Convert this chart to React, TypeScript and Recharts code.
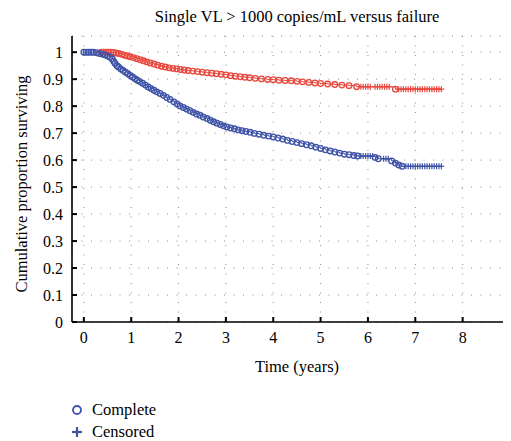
import React from "react";
import { LineChart, Line, XAxis, YAxis, CartesianGrid, Label } from "recharts";

// ---- Data ----
const xTicks = [0, 1, 2, 3, 4, 5, 6, 7, 8, 9];
const yTicks = [0, 0.1, 0.2, 0.3, 0.4, 0.5, 0.6, 0.7, 0.8, 0.9, 1];
const rightTicks = [0.189, 0.381, 0.574, 0.77, 0.963];

// Failure group (blue) - complete (event) points
const blueEventT = [0.0, 0.05, 0.1, 0.15, 0.2, 0.27, 0.33, 0.4, 0.45, 0.5, 0.55, 0.6, 0.63, 0.66, 0.7, 0.73, 0.78, 0.83, 0.88, 0.93, 0.98, 1.03, 1.08, 1.13, 1.18, 1.24, 1.3, 1.36, 1.42, 1.48, 1.54, 1.61, 1.68, 1.75, 1.82, 1.9, 1.97, 2.03, 2.1, 2.17, 2.24, 2.31, 2.38, 2.45, 2.52, 2.6, 2.67, 2.74, 2.81, 2.88, 2.95, 3.02, 3.1, 3.18, 3.26, 3.34, 3.42, 3.51, 3.6, 3.7, 3.8, 3.9, 4.0, 4.1, 4.2, 4.3, 4.4, 4.5, 4.6, 4.7, 4.8, 4.9, 5.0, 5.1, 5.2, 5.3, 5.4, 5.5, 5.6, 5.7, 5.78, 6.15, 6.22, 6.5, 6.58, 6.65, 6.72];
const blueEventS = [1.0, 1.0, 1.0, 1.0, 1.0, 0.998, 0.995, 0.992, 0.99, 0.986, 0.982, 0.975, 0.966, 0.958, 0.95, 0.945, 0.938, 0.932, 0.926, 0.92, 0.914, 0.908, 0.902, 0.896, 0.891, 0.885, 0.878, 0.871, 0.865, 0.859, 0.853, 0.847, 0.84, 0.832, 0.825, 0.816, 0.808, 0.801, 0.795, 0.789, 0.783, 0.777, 0.771, 0.766, 0.76, 0.754, 0.748, 0.742, 0.737, 0.732, 0.727, 0.723, 0.719, 0.716, 0.712, 0.709, 0.706, 0.703, 0.699, 0.696, 0.692, 0.689, 0.686, 0.682, 0.678, 0.673, 0.669, 0.665, 0.661, 0.657, 0.653, 0.648, 0.643, 0.638, 0.634, 0.63, 0.626, 0.622, 0.62, 0.617, 0.615, 0.61, 0.605, 0.597, 0.589, 0.582, 0.577];
// Failure group (blue) - censored points
const blueCensT = [5.85, 5.9, 5.95, 6.0, 6.05, 6.1, 6.33, 6.38, 6.43, 6.8, 6.85, 6.9, 6.95, 7.0, 7.05, 7.1, 7.15, 7.2, 7.25, 7.3, 7.35, 7.4, 7.45, 7.5, 7.55];
const blueCensS = [0.615, 0.615, 0.615, 0.615, 0.615, 0.615, 0.605, 0.605, 0.605, 0.577, 0.577, 0.577, 0.577, 0.577, 0.577, 0.577, 0.577, 0.577, 0.577, 0.577, 0.577, 0.577, 0.577, 0.577, 0.577];

// Single VL > 1000 group (red) - complete (event) points
const redEventT = [0.37, 0.42, 0.47, 0.52, 0.57, 0.62, 0.68, 0.74, 0.8, 0.86, 0.92, 0.98, 1.05, 1.12, 1.19, 1.26, 1.33, 1.4, 1.48, 1.56, 1.64, 1.72, 1.8, 1.88, 1.96, 2.04, 2.12, 2.2, 2.3, 2.4, 2.5, 2.6, 2.7, 2.8, 2.9, 3.0, 3.1, 3.2, 3.3, 3.4, 3.5, 3.62, 3.75, 3.88, 4.0, 4.12, 4.25, 4.38, 4.5, 4.62, 4.75, 4.88, 5.0, 5.15, 5.3, 5.45, 5.6, 5.76, 6.58];
const redEventS = [1.0, 1.0, 1.0, 1.0, 1.0, 0.999, 0.997, 0.995, 0.992, 0.989, 0.986, 0.983, 0.98, 0.976, 0.972, 0.968, 0.964, 0.96, 0.956, 0.952, 0.948, 0.945, 0.942, 0.94, 0.938, 0.936, 0.934, 0.932, 0.93, 0.928, 0.926, 0.924, 0.922, 0.92, 0.918, 0.916, 0.913, 0.911, 0.909, 0.907, 0.905, 0.903, 0.901, 0.899, 0.898, 0.896, 0.895, 0.894, 0.892, 0.89, 0.888, 0.886, 0.884, 0.882, 0.88, 0.878, 0.876, 0.872, 0.863];
// Single VL > 1000 group (red) - censored points
const redCensT = [5.85, 5.9, 5.95, 6.0, 6.05, 6.15, 6.2, 6.25, 6.3, 6.35, 6.4, 6.45, 6.65, 6.7, 6.75, 6.8, 6.85, 6.9, 6.95, 7.0, 7.05, 7.1, 7.15, 7.2, 7.25, 7.3, 7.35, 7.4, 7.45, 7.5, 7.55];
const redCensS = [0.872, 0.872, 0.872, 0.872, 0.872, 0.872, 0.872, 0.872, 0.872, 0.872, 0.872, 0.872, 0.863, 0.863, 0.863, 0.863, 0.863, 0.863, 0.863, 0.863, 0.863, 0.863, 0.863, 0.863, 0.863, 0.863, 0.863, 0.863, 0.863, 0.863, 0.863];

type Pt = { t: number; s: number; c: boolean };
const build = (et: number[], es: number[], ct: number[], cs: number[]): Pt[] => {
  const pts: Pt[] = [];
  et.forEach((t, i) => pts.push({ t, s: es[i], c: false }));
  ct.forEach((t, i) => pts.push({ t, s: cs[i], c: true }));
  return pts.sort((a, b) => a.t - b.t);
};
const blueData = build(blueEventT, blueEventS, blueCensT, blueCensS);
const redData = build(redEventT, redEventS, redCensT, redCensS);

const BLUE = "#3f53a6";
const RED = "#e8473d";
const FONT = '"Liberation Serif", "Times New Roman", serif';

const makeDot = (color: string) => (props: any) => {
  const { cx, cy, payload, index } = props;
  if (cx == null || cy == null) return <g key={`d-${index}`} />;
  if (payload.c) {
    return (
      <g key={`d-${index}`}>
        <line x1={cx - 3} y1={cy} x2={cx + 3} y2={cy} stroke={color} strokeWidth={1.2} />
        <line x1={cx} y1={cy - 3} x2={cx} y2={cy + 3} stroke={color} strokeWidth={1.2} />
      </g>
    );
  }
  return <circle key={`d-${index}`} cx={cx} cy={cy} r={2.8} fill="none" stroke={color} strokeWidth={1.3} />;
};

const tickStyle = { fill: "#000", fontSize: 16, fontFamily: FONT };

export default function App() {
  return (
    <div style={{ position: "relative", width: 503, height: 433, fontFamily: FONT, color: "#000" }}>
      <div style={{ position: "absolute", left: 89, width: 400, top: 0, textAlign: "center", fontSize: 16.5, lineHeight: "18px" }}>
        Single VL &gt; 1000 copies/mL versus failure
      </div>
      <LineChart width={503} height={433} margin={{ top: 28, right: 1, bottom: 89, left: 0 }} style={{ overflow: "visible" }}>
        <CartesianGrid stroke="#8a8a8a" strokeDasharray="1 8.5" strokeWidth={1} />
        <XAxis
          dataKey="t"
          type="number"
          domain={[-0.25, 9]}
          ticks={xTicks}
          allowDataOverflow
          height={30}
          tickSize={-5}
          tickMargin={15}
          tick={tickStyle}
          tickLine={{ stroke: "#000", strokeWidth: 2 }}
          axisLine={{ stroke: "#000", strokeWidth: 1.6 }}
          interval={0}
          label={
            <Label
              content={() => (
                <text x={289} y={364} textAnchor="middle" fontSize={16.5} fontFamily={FONT} fill="#000">
                  Time (years)
                </text>
              )}
            />
          }
        />
        <XAxis
          xAxisId="top"
          orientation="top"
          dataKey="t"
          type="number"
          domain={[-0.25, 9]}
          ticks={xTicks}
          allowDataOverflow
          height={0}
          tickSize={-5}
          tickFormatter={() => ""}
          tickLine={{ stroke: "#000", strokeWidth: 2 }}
          axisLine={{ stroke: "#000", strokeWidth: 1.6 }}
          interval={0}
        />
        <YAxis
          type="number"
          domain={[0, 1.06]}
          ticks={yTicks}
          allowDataOverflow
          width={64}
          tickSize={-5}
          tickMargin={14}
          tick={tickStyle}
          tickFormatter={(v: number) => (v === 0 ? "0" : v === 1 ? "1" : v.toFixed(1))}
          tickLine={{ stroke: "#000", strokeWidth: 2 }}
          axisLine={{ stroke: "#000", strokeWidth: 1.6 }}
          interval={0}
          label={
            <Label
              content={() => (
                <text
                  x={19}
                  y={176}
                  transform="rotate(-90 19 176)"
                  textAnchor="middle"
                  fontSize={16.5}
                  fontFamily={FONT}
                  fill="#000"
                >
                  Cumulative proportion surviving
                </text>
              )}
            />
          }
        />
        <YAxis
          yAxisId="right"
          orientation="right"
          type="number"
          domain={[0, 1.06]}
          ticks={rightTicks}
          allowDataOverflow
          width={0}
          tickSize={-5}
          tickFormatter={() => ""}
          tickLine={{ stroke: "#000", strokeWidth: 2 }}
          axisLine={{ stroke: "#000", strokeWidth: 1.6 }}
          interval={0}
        />
        <Line
          data={redData}
          dataKey="s"
          type="stepAfter"
          stroke={RED}
          strokeWidth={1}
          dot={makeDot(RED)}
          activeDot={false}
          isAnimationActive={false}
        />
        <Line
          data={blueData}
          dataKey="s"
          type="stepAfter"
          stroke={BLUE}
          strokeWidth={1}
          dot={makeDot(BLUE)}
          activeDot={false}
          isAnimationActive={false}
        />
      </LineChart>
      <div style={{ position: "absolute", left: 62, top: 391, fontSize: 16.5, lineHeight: "22px" }}>
        <div style={{ display: "flex", alignItems: "center" }}>
          <svg width={14} height={14} style={{ marginRight: 8 }}>
            <circle cx={7} cy={7} r={4} fill="none" stroke={BLUE} strokeWidth={1.8} />
          </svg>
          <span>Complete</span>
        </div>
        <div style={{ display: "flex", alignItems: "center" }}>
          <svg width={14} height={14} style={{ marginRight: 8 }}>
            <line x1={2} y1={7} x2={12} y2={7} stroke={BLUE} strokeWidth={2.2} />
            <line x1={7} y1={2} x2={7} y2={12} stroke={BLUE} strokeWidth={2.2} />
          </svg>
          <span>Censored</span>
        </div>
      </div>
    </div>
  );
}
